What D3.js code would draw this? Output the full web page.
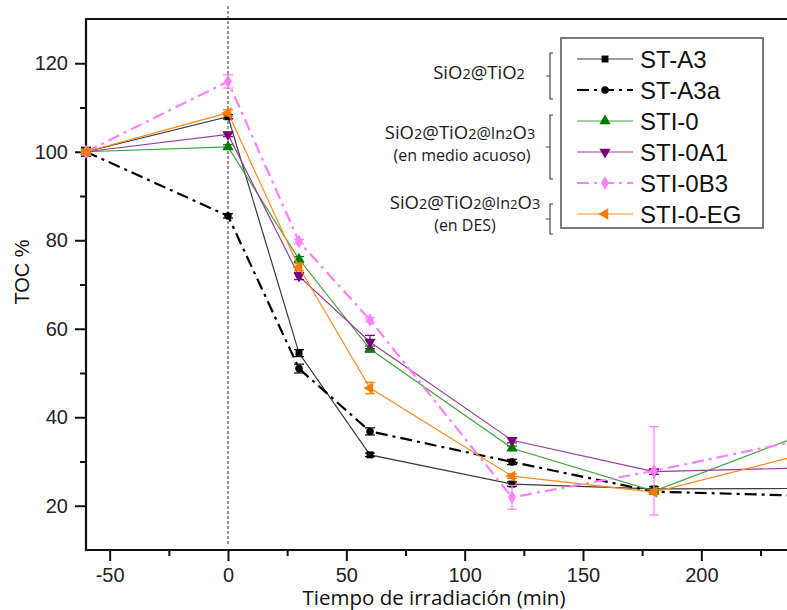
<!DOCTYPE html>
<html>
<head>
<meta charset="utf-8">
<script src="https://cdn.jsdelivr.net/npm/d3@7"></script>
<style>
  html, body { margin: 0; padding: 0; background: #fff; }
  svg { display: block; }
</style>
</head>
<body>
<svg id="chart" width="787" height="610"></svg>
<script>
// Irradiation times (min)
const times = [-60, 0, 30, 60, 120, 180, 240];

// TOC % per sample
const stA3      = [100, 107.9, 54.5, 31.5, 24.9, 23.8, 23.9];
const stA3a     = [100, 85.5, 51.0, 36.8, 29.9, 23.2, 22.3];
const sti0      = [100, 101.1, 75.7, 55.4, 33.0, 23.3, 35.5];
const sti0A1    = [100, 103.9, 71.9, 57.0, 34.8, 27.7, 28.5];
const sti0B3    = [100, 115.9, 79.7, 62.0, 21.9, 27.9, 34.6];
const sti0EG    = [100, 108.8, 73.9, 46.6, 26.7, 23.1, 31.2];

// Standard deviations
const stA3Err   = [0.5, 0.5, 0.8, 0.4, 0.5, 0.5, 0];
const stA3aErr  = [1.0, 0.5, 1.0, 0.8, 0.6, 0.5, 0];
const sti0Err   = [0.5, 0.5, 0.6, 0.7, 0.5, 0.5, 0];
const sti0A1Err = [0.5, 0.5, 0.8, 1.5, 0.6, 0.6, 0];
const sti0B3Err = [0.5, 1.5, 0.5, 0.5, 2.7, 10.0, 0];
const sti0EGErr = [0.5, 0.7, 0.8, 1.3, 0.5, 0.5, 0];

const seriesNames = ["ST-A3", "ST-A3a", "STI-0", "STI-0A1", "STI-0B3", "STI-0-EG"];

const xMajorTicks = [-50, 0, 50, 100, 150, 200];
const xMinorTicks = [-25, 25, 75, 125, 175, 225];
const yMajorTicks = [20, 40, 60, 80, 100, 120];
const yMinorTicks = [30, 50, 70, 90, 110];

const xTitle = "Tiempo de irradiación  (min)";
const yTitle = "TOC %";

const series = [
  { name: seriesNames[0], values: stA3,   errors: stA3Err,   color: "#3a3a3a", mark: "#000", width: 1.2, dash: null,          symbol: d3.symbolSquare,   rot: 0,   size: 48 },
  { name: seriesNames[1], values: stA3a,  errors: stA3aErr,  color: "#000",    mark: "#000", width: 2.2, dash: "12,5,3,5",    symbol: d3.symbolCircle,   rot: 0,   size: 44 },
  { name: seriesNames[2], values: sti0,   errors: sti0Err,   color: "#3fa33f", mark: "#007a00", width: 1.2, dash: null,       symbol: d3.symbolTriangle, rot: 0,   size: 55 },
  { name: seriesNames[3], values: sti0A1, errors: sti0A1Err, color: "#9a3a9a", mark: "#7a007a", width: 1.2, dash: null,       symbol: d3.symbolTriangle, rot: 180, size: 55 },
  { name: seriesNames[4], values: sti0B3, errors: sti0B3Err, color: "#ff80ff", mark: "#ff80ff", width: 2.2, dash: "12,5,3,5", symbol: d3.symbolDiamond,  rot: 0,   size: 55 },
  { name: seriesNames[5], values: sti0EG, errors: sti0EGErr, color: "#ff8a1f", mark: "#ff7a00", width: 1.2, dash: null,       symbol: d3.symbolTriangle, rot: -90, size: 55 }
];

const svg = d3.select("#chart");
const plotLeft = 86, plotRight = 796, plotTop = 19, plotBottom = 550;

const x = d3.scaleLinear().domain([-60, 240]).range([plotLeft, plotRight]);
const y = d3.scaleLinear().domain([10, 130]).range([plotBottom, plotTop]);

// Plain hyphen-minus labels
const tickFmt = d => String(d);

// Reference line at irradiation start
svg.append("line")
  .attr("x1", x(0)).attr("x2", x(0))
  .attr("y1", 6).attr("y2", plotBottom - 4)
  .attr("stroke", "#333").attr("stroke-width", 1)
  .attr("stroke-dasharray", "3,2");

// Frame
svg.append("line").attr("x1", plotLeft).attr("x2", plotRight).attr("y1", plotTop).attr("y2", plotTop)
  .attr("stroke", "#111").attr("stroke-width", 2);
svg.append("line").attr("x1", plotRight).attr("x2", plotRight).attr("y1", plotTop).attr("y2", plotBottom)
  .attr("stroke", "#111").attr("stroke-width", 2);

// X axis
const xAxis = svg.append("g").attr("transform", `translate(0,${plotBottom})`)
  .call(d3.axisBottom(x).tickValues(xMajorTicks).tickSize(11).tickPadding(5).tickFormat(tickFmt));
const xMinor = svg.append("g").attr("transform", `translate(0,${plotBottom})`)
  .call(d3.axisBottom(x).tickValues(xMinorTicks).tickSize(6).tickFormat(""));

// Y axis
const yAxis = svg.append("g").attr("transform", `translate(${plotLeft},0)`)
  .call(d3.axisLeft(y).tickValues(yMajorTicks).tickSize(11).tickPadding(7).tickFormat(tickFmt));
const yMinor = svg.append("g").attr("transform", `translate(${plotLeft},0)`)
  .call(d3.axisLeft(y).tickValues(yMinorTicks).tickSize(6).tickFormat(""));

[xAxis, xMinor, yAxis, yMinor].forEach(g => {
  g.select(".domain").remove();
  g.selectAll(".tick line").attr("stroke", "#111").attr("stroke-width", 2);
  g.selectAll(".tick text")
    .attr("fill", "#222")
    .style("font-family", "'Liberation Sans', Arial, sans-serif")
    .style("font-size", "20px");
});
xAxis.selectAll(".tick text").attr("dy", "0.78em");

svg.append("line").attr("x1", plotLeft).attr("x2", plotRight).attr("y1", plotBottom).attr("y2", plotBottom)
  .attr("stroke", "#111").attr("stroke-width", 2.2);
svg.append("line").attr("x1", plotLeft).attr("x2", plotLeft).attr("y1", plotTop - 1).attr("y2", plotBottom + 1)
  .attr("stroke", "#111").attr("stroke-width", 2.2);

// Axis titles
svg.append("text")
  .attr("x", 434).attr("y", 605)
  .attr("text-anchor", "middle")
  .attr("fill", "#111")
  .style("font-family", "'Open Sans', 'Noto Sans', sans-serif")
  .style("font-size", "20.5px")
  .text(xTitle);

svg.append("text")
  .attr("transform", "translate(29,272) rotate(-90)")
  .attr("text-anchor", "middle")
  .attr("fill", "#111")
  .style("font-family", "'Liberation Sans', Arial, sans-serif")
  .style("font-size", "20px")
  .text(yTitle);

// Series
const line = d3.line().x((d, i) => x(times[i])).y(d => y(d));
const plot = svg.append("g");

series.forEach(s => {
  const g = plot.append("g");
  g.append("path")
    .datum(s.values)
    .attr("d", line)
    .attr("fill", "none")
    .attr("stroke", s.color)
    .attr("stroke-width", s.width)
    .attr("stroke-dasharray", s.dash);

  // Error bars
  const eb = g.selectAll(".eb").data(s.values.map((v, i) => ({ t: times[i], v, e: s.errors[i] })).filter(d => d.e > 0))
    .enter().append("g");
  eb.append("line")
    .attr("x1", d => x(d.t)).attr("x2", d => x(d.t))
    .attr("y1", d => y(d.v - d.e)).attr("y2", d => y(d.v + d.e))
    .attr("stroke", s.mark).attr("stroke-width", 1.2);
  [-1, 1].forEach(sign => {
    eb.append("line")
      .attr("x1", d => x(d.t) - 5).attr("x2", d => x(d.t) + 5)
      .attr("y1", d => y(d.v + sign * d.e)).attr("y2", d => y(d.v + sign * d.e))
      .attr("stroke", s.mark).attr("stroke-width", 1.2);
  });

  g.selectAll(".m").data(s.values).enter().append("path")
    .attr("d", d3.symbol().type(s.symbol).size(s.size))
    .attr("transform", (d, i) => `translate(${x(times[i])},${y(d)}) rotate(${s.rot})`)
    .attr("fill", s.mark);
});

// Legend
const lg = svg.append("g");
lg.append("rect")
  .attr("x", 561).attr("y", 38).attr("width", 202).attr("height", 190)
  .attr("fill", "#fff").attr("stroke", "#7a7a7a").attr("stroke-width", 2);

series.forEach((s, i) => {
  const yy = 59 + i * 31;
  lg.append("line")
    .attr("x1", 577).attr("x2", 633).attr("y1", yy).attr("y2", yy)
    .attr("stroke", s.color).attr("stroke-width", s.width)
    .attr("stroke-dasharray", s.dash);
  lg.append("path")
    .attr("d", d3.symbol().type(s.symbol).size(s.size))
    .attr("transform", `translate(605,${yy}) rotate(${s.rot})`)
    .attr("fill", s.mark);
  lg.append("text")
    .attr("x", 640).attr("y", yy)
    .attr("dy", "0.36em")
    .attr("fill", "#111")
    .style("font-family", "'Liberation Sans', Arial, sans-serif")
    .style("font-size", "24px")
    .text(s.name);
});

// Group annotations with braces
const noteFont = "'Open Sans', 'Noto Sans', sans-serif";
function formula(parent, xPos, yPos, parts) {
  const t = parent.append("text")
    .attr("x", xPos).attr("y", yPos)
    .attr("text-anchor", "middle")
    .attr("fill", "#1a1a1a")
    .style("font-family", noteFont);
  parts.forEach(p => t.append("tspan").style("font-size", p[1] + "px").text(p[0]));
  return t;
}
const compound3 = [["SiO", 18.5], ["2", 14.5], ["@TiO", 18.5], ["2", 14.5], ["@In", 16], ["2", 13], ["O", 18.5], ["3", 14.5]];
const notes = svg.append("g");
formula(notes, 479, 79, [["SiO", 18.5], ["2", 14.5], ["@TiO", 18.5], ["2", 14.5]]);
formula(notes, 460, 139, compound3);
formula(notes, 462, 161, [["(en medio acuoso)", 16]]);
formula(notes, 465, 209, compound3);
formula(notes, 465, 231, [["(en DES)", 16]]);

function brace(y0, y1) {
  const xb = 550, ym = (y0 + y1) / 2;
  notes.append("path")
    .attr("d", `M${xb + 3},${y0} H${xb} V${y1} H${xb + 3} M${xb},${ym} H${xb - 4}`)
    .attr("fill", "none").attr("stroke", "#444").attr("stroke-width", 1.2);
}
brace(53, 99);
brace(115, 179);
brace(204, 234);
</script>
</body>
</html>
